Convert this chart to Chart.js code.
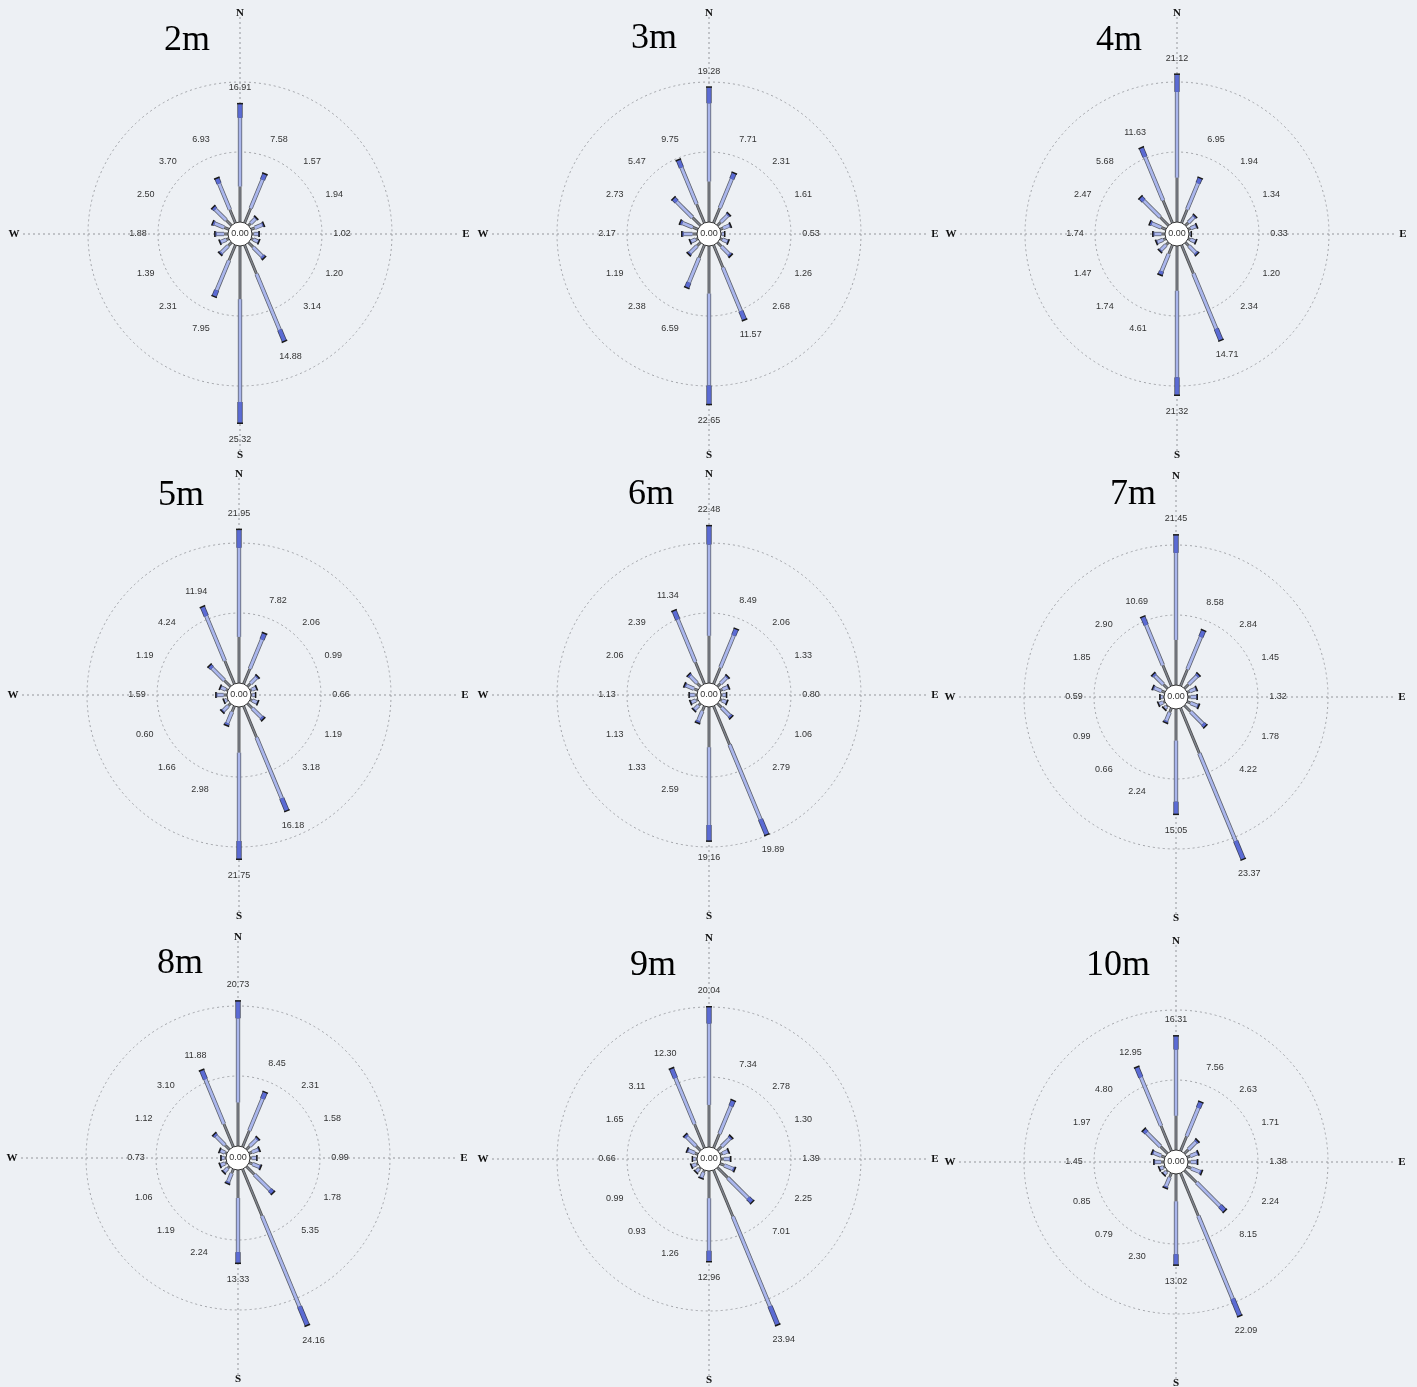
<!DOCTYPE html>
<html>
<head>
<meta charset="utf-8">
<script src="https://cdn.jsdelivr.net/npm/chart.js@4.4.1/dist/chart.umd.min.js"></script>
<style>
body { margin: 0; background: #edf0f4; }
#wrap { position: relative; width: 1417px; height: 1387px; overflow: hidden; background: #edf0f4; }
canvas.rose { position: absolute; }
</style>
</head>
<body>
<div id="wrap"></div>
<script>
// 16 compass sectors, clockwise from north
const directions = ["N","NNE","NE","ENE","E","ESE","SE","SSE","S","SSW","SW","WSW","W","WNW","NW","NNW"];
const heights = ["2m","3m","4m","5m","6m","7m","8m","9m","10m"];

// frequency (%) per sector
const freq2m  = [16.91, 7.58, 1.57, 1.94, 1.02, 1.20, 3.14, 14.88, 25.32, 7.95, 2.31, 1.39, 1.88, 2.50, 3.70, 6.93];
const freq3m  = [19.28, 7.71, 2.31, 1.61, 0.53, 1.26, 2.68, 11.57, 22.65, 6.59, 2.38, 1.19, 2.17, 2.73, 5.47, 9.75];
const freq4m  = [21.12, 6.95, 1.94, 1.34, 0.33, 1.20, 2.34, 14.71, 21.32, 4.61, 1.74, 1.47, 1.74, 2.47, 5.68, 11.63];
const freq5m  = [21.95, 7.82, 2.06, 0.99, 0.66, 1.19, 3.18, 16.18, 21.75, 2.98, 1.66, 0.60, 1.59, 1.19, 4.24, 11.94];
const freq6m  = [22.48, 8.49, 2.06, 1.33, 0.80, 1.06, 2.79, 19.89, 19.16, 2.59, 1.33, 1.13, 1.13, 2.06, 2.39, 11.34];
const freq7m  = [21.45, 8.58, 2.84, 1.45, 1.32, 1.78, 4.22, 23.37, 15.05, 2.24, 0.66, 0.99, 0.59, 1.85, 2.90, 10.69];
const freq8m  = [20.73, 8.45, 2.31, 1.58, 0.99, 1.78, 5.35, 24.16, 13.33, 2.24, 1.19, 1.06, 0.73, 1.12, 3.10, 11.88];
const freq9m  = [20.04, 7.34, 2.78, 1.30, 1.39, 2.25, 7.01, 23.94, 12.96, 1.26, 0.93, 0.99, 0.66, 1.65, 3.11, 12.30];
const freq10m = [16.31, 7.56, 2.63, 1.71, 1.38, 2.24, 8.15, 22.09, 13.02, 2.30, 0.79, 0.85, 1.45, 1.97, 4.80, 12.95];
const roses = [freq2m, freq3m, freq4m, freq5m, freq6m, freq7m, freq8m, freq9m, freq10m];

const ringTicks = [10, 20];
const cardinals = { 0: "N", 4: "E", 8: "S", 12: "W" };

// layout: rose centres on the page and title offsets from them
const centers = [[240,234],[709,234],[1177,234],[239,695],[709,695],[1176,697],[238,1158],[709,1159],[1176,1162]];
const titleOffsets = [[-53,-184],[-55,-186],[-58,-184],[-58,-190],[-58,-191],[-43,-193],[-58,-185],[-56,-184],[-58,-187]];
const CW = 470, CH = 462;

// bar look: stacked parts as share of the bar length
const parts = [
  { to: 0.30, width: 1.4, fill: "#80858f", edge: "#4a4a4a" },
  { to: 0.88, width: 2.8, fill: "#aab6ec", edge: "#5a5e69" },
  { to: 1.00, width: 3.8, fill: "#5b6bd4", edge: "#3a3f55" }
];

const rosePlugin = {
  id: "rose",
  afterDatasetsDraw(chart, args, opts) {
    const ctx = chart.ctx;
    const r = chart.scales.r;
    const meta = chart.getDatasetMeta(0);
    const vals = chart.data.datasets[0].data;
    const cx = r.xCenter, cy = r.yCenter;
    const hole = r.getDistanceFromCenterForValue(0);
    ctx.save();
    ctx.lineCap = "butt";

    vals.forEach((v, i) => {
      let prev = 0;
      parts.forEach(p => {
        const to = v * p.to;
        const a = r.getPointPositionForValue(i, prev);
        const b = r.getPointPositionForValue(i, to);
        ctx.strokeStyle = p.edge;
        ctx.lineWidth = p.width + 1.5;
        ctx.beginPath(); ctx.moveTo(a.x, a.y); ctx.lineTo(b.x, b.y); ctx.stroke();
        ctx.strokeStyle = p.fill;
        ctx.lineWidth = p.width;
        ctx.beginPath(); ctx.moveTo(a.x, a.y); ctx.lineTo(b.x, b.y); ctx.stroke();
        prev = to;
      });
      // dark cap at the tip
      const tip = meta.data[i];
      const ang = r.getIndexAngle(i) - Math.PI / 2;
      const px = -Math.sin(ang), py = Math.cos(ang);
      const half = 3;
      ctx.strokeStyle = "#1a1a1a";
      ctx.lineWidth = 1.5;
      ctx.beginPath();
      ctx.moveTo(tip.x + px * half, tip.y + py * half);
      ctx.lineTo(tip.x - px * half, tip.y - py * half);
      ctx.stroke();
    });

    // centre hole
    ctx.beginPath();
    ctx.arc(cx, cy, hole, 0, Math.PI * 2);
    ctx.fillStyle = "#ffffff";
    ctx.fill();
    ctx.strokeStyle = "#333";
    ctx.lineWidth = 1;
    ctx.stroke();

    ctx.fillStyle = "#333";
    ctx.font = '9px "Liberation Sans", Arial, sans-serif';
    ctx.textAlign = "center";
    ctx.textBaseline = "middle";
    ctx.fillText("0.00", cx, cy);

    // value labels
    vals.forEach((v, i) => {
      const d = Math.max(102, r.getDistanceFromCenterForValue(v) + 16);
      const pos = r.getPointPosition(i, d);
      ctx.fillText(v.toFixed(2), pos.x, pos.y);
    });

    // compass letters
    ctx.fillStyle = "#111";
    ctx.font = 'bold 11px "Liberation Serif", "Times New Roman", serif';
    Object.keys(cardinals).forEach(k => {
      const i = +k;
      const d = (i % 8 === 0) ? 221 : 226;
      const pos = r.getPointPosition(i, d);
      ctx.fillText(cardinals[k], pos.x, pos.y);
    });

    // height title
    ctx.fillStyle = "#000";
    ctx.font = '36px "Liberation Serif", "Times New Roman", serif';
    ctx.textBaseline = "alphabetic";
    ctx.fillText(opts.title, cx + opts.offset[0], cy + opts.offset[1]);
    ctx.restore();
  }
};

const wrap = document.getElementById("wrap");
roses.forEach((vals, k) => {
  const cv = document.createElement("canvas");
  cv.className = "rose";
  cv.width = CW; cv.height = CH;
  cv.style.width = CW + "px"; cv.style.height = CH + "px";
  cv.style.left = (centers[k][0] - 235) + "px";
  cv.style.top = (centers[k][1] - 231) + "px";
  wrap.appendChild(cv);

  new Chart(cv, {
    type: "radar",
    data: {
      labels: directions,
      datasets: [{ data: vals, showLine: false, fill: false, pointRadius: 0, pointHoverRadius: 0, borderWidth: 0 }]
    },
    options: {
      responsive: false,
      animation: false,
      layout: { padding: 14 },
      plugins: {
        legend: { display: false },
        tooltip: { enabled: false },
        rose: { title: heights[k], offset: titleOffsets[k] }
      },
      scales: {
        r: {
          min: -1.7143,
          max: 29.2857,
          afterBuildTicks: s => { s.ticks = ringTicks.map(v => ({ value: v })); },
          ticks: { display: false },
          pointLabels: { display: false },
          grid: { circular: true, color: "#a0a2a7", lineWidth: 1 },
          border: { dash: [2, 3] },
          angleLines: {
            color: c => (c.index % 4 === 0 ? "#94969b" : "rgba(0,0,0,0)"),
            lineWidth: c => (c.index % 4 === 0 ? 1 : 0),
            borderDash: [2, 3]
          }
        }
      }
    },
    plugins: [rosePlugin]
  });
});
</script>
</body>
</html>
